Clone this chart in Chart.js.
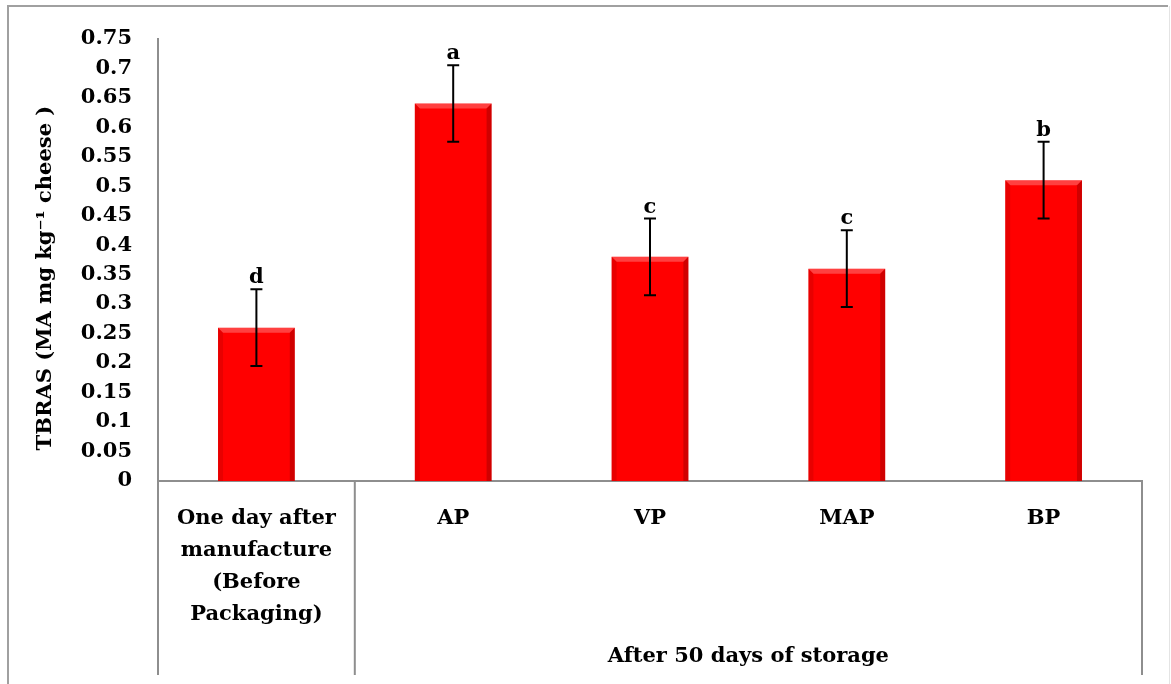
<!DOCTYPE html>
<html>
<head>
<meta charset="utf-8">
<script src="https://cdn.jsdelivr.net/npm/chart.js"></script>
<style>
  html, body { margin: 0; padding: 0; background: #fff; }
  #wrap { width: 1171px; height: 684px; }
</style>
</head>
<body>
<div id="wrap"><canvas id="chartTbras" width="1171" height="684"></canvas></div>
<script>
const categories = [['One day after', 'manufacture', '(Before', 'Packaging)'], 'AP', 'VP', 'MAP', 'BP'];
const tbrasValues = [0.26, 0.64, 0.38, 0.36, 0.51];
const tbrasErrors = [0.065, 0.065, 0.065, 0.065, 0.065];
const letters = ['d', 'a', 'c', 'c', 'b'];
const yTicks = [0, 0.05, 0.1, 0.15, 0.2, 0.25, 0.3, 0.35, 0.4, 0.45, 0.5, 0.55, 0.6, 0.65, 0.7, 0.75];
const groupLabel = 'After 50 days of storage';
const groupFrom = 1, groupTo = 4;

const serif = '"DejaVu Serif", serif';
const lineGray = '#8e8e8e';

const decor = {
  id: 'decor',
  beforeDraw(chart) {
    const ctx = chart.ctx;
    ctx.save();
    ctx.fillStyle = '#fff';
    ctx.fillRect(0, 0, chart.width, chart.height);
    ctx.strokeStyle = '#a0a0a0';
    ctx.lineWidth = 2;
    ctx.beginPath();
    ctx.moveTo(8, chart.height);
    ctx.lineTo(8, 6);
    ctx.lineTo(1168, 6);
    ctx.stroke();
    ctx.strokeStyle = '#e4e4e4';
    ctx.lineWidth = 1;
    ctx.beginPath();
    ctx.moveTo(1169.5, 6);
    ctx.lineTo(1169.5, chart.height);
    ctx.stroke();
    ctx.restore();
  },
  afterDatasetsDraw(chart) {
    const ctx = chart.ctx;
    const y = chart.scales.y;
    const meta = chart.getDatasetMeta(0);
    ctx.save();
    meta.data.forEach((bar, i) => {
      const left = bar.x - bar.width / 2, right = bar.x + bar.width / 2;
      const top = bar.y, base = bar.base;
      // bevel edges
      ctx.fillStyle = 'rgba(255,255,255,0.25)';
      ctx.beginPath();
      ctx.moveTo(left, top); ctx.lineTo(right, top);
      ctx.lineTo(right - 5, top + 5); ctx.lineTo(left + 5, top + 5);
      ctx.closePath(); ctx.fill();
      ctx.fillStyle = 'rgba(140,0,0,0.2)';
      ctx.beginPath();
      ctx.moveTo(left, top); ctx.lineTo(left + 5, top + 5);
      ctx.lineTo(left + 5, base); ctx.lineTo(left, base);
      ctx.closePath(); ctx.fill();
      ctx.fillStyle = 'rgba(110,0,0,0.32)';
      ctx.beginPath();
      ctx.moveTo(right, top); ctx.lineTo(right - 5, top + 5);
      ctx.lineTo(right - 5, base); ctx.lineTo(right, base);
      ctx.closePath(); ctx.fill();

      // error bar
      const hi = y.getPixelForValue(tbrasValues[i] + tbrasErrors[i]);
      const lo = y.getPixelForValue(tbrasValues[i] - tbrasErrors[i]);
      ctx.strokeStyle = '#000';
      ctx.lineWidth = 2;
      ctx.beginPath();
      ctx.moveTo(bar.x, hi); ctx.lineTo(bar.x, lo);
      ctx.moveTo(bar.x - 6, hi); ctx.lineTo(bar.x + 6, hi);
      ctx.moveTo(bar.x - 6, lo); ctx.lineTo(bar.x + 6, lo);
      ctx.stroke();

      // significance letter
      ctx.fillStyle = '#000';
      ctx.font = 'bold 21px ' + serif;
      ctx.textAlign = 'center';
      ctx.textBaseline = 'alphabetic';
      ctx.fillText(letters[i], bar.x, hi - 6);
    });
    ctx.restore();
  },
  afterDraw(chart) {
    const ctx = chart.ctx;
    const x = chart.scales.x;
    const area = chart.chartArea;
    const split = (x.getPixelForValue(0) + x.getPixelForValue(1)) / 2;
    ctx.save();
    ctx.strokeStyle = lineGray;
    ctx.lineWidth = 2;
    ctx.beginPath();
    [area.left, split, area.right].forEach(px => {
      ctx.moveTo(px, area.bottom);
      ctx.lineTo(px, 675);
    });
    ctx.stroke();
    ctx.fillStyle = '#000';
    ctx.font = 'bold 21px ' + serif;
    ctx.textAlign = 'center';
    ctx.textBaseline = 'middle';
    const gx = (x.getPixelForValue(groupFrom) + x.getPixelForValue(groupTo)) / 2;
    ctx.fillText(groupLabel, gx, 657);
    ctx.restore();
  }
};

new Chart(document.getElementById('chartTbras'), {
  type: 'bar',
  data: {
    labels: categories,
    datasets: [{
      data: tbrasValues,
      backgroundColor: '#ff0000',
      borderWidth: 0,
      barPercentage: 0.39,
      categoryPercentage: 1
    }]
  },
  options: {
    responsive: false,
    animation: false,
    events: [],
    layout: { padding: { top: 35, right: 29, left: 0, bottom: 0 } },
    plugins: {
      legend: { display: false },
      tooltip: { enabled: false }
    },
    scales: {
      x: {
        grid: { display: false, drawTicks: false },
        border: { display: true, color: lineGray, width: 2 },
        ticks: {
          color: '#000',
          padding: 22,
          maxRotation: 0,
          autoSkip: false,
          font: { family: serif, size: 21, weight: 'bold', lineHeight: 1.52 }
        },
        afterFit(s) { s.height = 203; }
      },
      y: {
        min: 0,
        max: 0.75,
        grid: { display: false, drawTicks: false },
        border: { display: true, color: lineGray, width: 2 },
        afterBuildTicks(s) { s.ticks = yTicks.map(v => ({ value: v })); },
        ticks: {
          color: '#000',
          padding: 26,
          font: { family: serif, size: 21, weight: 'bold' },
          callback: v => String(Number(v.toFixed(2)))
        },
        title: {
          display: true,
          // trailing spaces nudge the rotated title down a little, as in the original
          text: 'TBRAS (MA mg kg\u207B\u00B9 cheese )     ',
          color: '#000',
          font: { family: serif, size: 21, weight: 'bold' },
          padding: { top: 33, bottom: 0 }
        },
        afterFit(s) { s.width = 158; }
      }
    }
  },
  plugins: [decor]
});
</script>
</body>
</html>
